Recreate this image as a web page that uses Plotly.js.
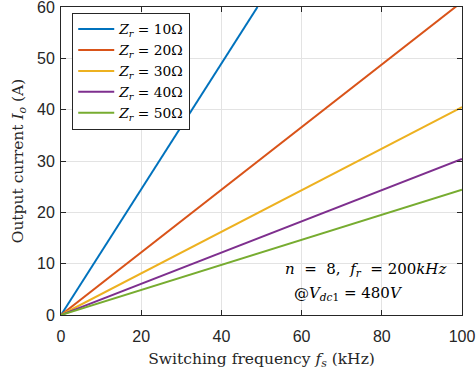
<!DOCTYPE html>
<html>
<head>
<meta charset="utf-8">
<script src="https://cdn.plot.ly/plotly-3.0.1.min.js"></script>
<style>html,body{margin:0;padding:0;background:#fff}#chart{width:476px;height:373px}</style>
</head>
<body>
<div id="chart"></div>
<script>
const fs = [0, 20, 40, 60, 80, 100];
const fsZ10 = [0, 20, 40, 49];
const ioZ10 = [0, 24.5, 49, 60];
const ioZ20 = [0, 12.2, 24.4, 36.6, 48.8, 61];
const ioZ30 = [0, 8.1, 16.2, 24.3, 32.4, 40.5];
const ioZ40 = [0, 6.1, 12.2, 18.3, 24.4, 30.4];
const ioZ50 = [0, 4.9, 9.8, 14.6, 19.5, 24.4];
const names = ['10', '20', '30', '40', '50'];
const colors = ['#0072BD', '#D95319', '#EDB120', '#7E2F8E', '#77AC30'];
const xs = [fsZ10, fs, fs, fs, fs];
const ys = [ioZ10, ioZ20, ioZ30, ioZ40, ioZ50];

const serif = 'DejaVu Serif';
const traces = names.map((n, i) => ({
  x: xs[i], y: ys[i], type: 'scatter', mode: 'lines',
  name: '<i>Z</i><sub><i>r</i></sub> = ' + n + 'Ω',
  line: {color: colors[i], width: 2}
}));

const axisCommon = {
  showgrid: true, gridcolor: '#e3e3e3', gridwidth: 1,
  zeroline: false, showline: true, linecolor: '#262626', linewidth: 1,
  mirror: 'ticks', ticks: 'inside', ticklen: 5, tickcolor: '#262626',
  ticklabeloverflow: 'allow',
  tickfont: {family: 'Liberation Sans', size: 16, color: '#262626'}
};

const layout = {
  width: 476, height: 373,
  margin: {l: 61, r: 14, t: 7, b: 58},
  paper_bgcolor: '#fff', plot_bgcolor: '#fff',
  showlegend: true,
  legend: {
    x: 0.028, y: 0.982, xanchor: 'left', yanchor: 'top',
    bgcolor: '#fff', bordercolor: '#262626', borderwidth: 1,
    font: {family: serif, size: 13.8, color: '#000'},
    itemwidth: 36, tracegroupgap: 0
  },
  xaxis: Object.assign({}, axisCommon, {
    range: [0, 100], tickvals: [0, 20, 40, 60, 80, 100], ticklabelstandoff: 7,
    title: {text: 'Switching frequency <i>f</i><sub><i>s</i></sub> (kHz)',
      font: {family: serif, size: 15.5, color: '#262626'}, standoff: 8}
  }),
  yaxis: Object.assign({}, axisCommon, {
    range: [0, 60], tickvals: [0, 10, 20, 30, 40, 50, 60], ticklabelstandoff: 2,
    title: {text: 'Output current <i>I</i><sub><i>o</i></sub> (A)',
      font: {family: serif, size: 15.5, color: '#262626'}, standoff: 9}
  }),
  annotations: [
    {x: 0.965, y: 0.148, xref: 'paper', yref: 'paper', xanchor: 'right', yanchor: 'middle',
     showarrow: false, align: 'left',
     text: '<i>n</i>&nbsp;&nbsp;=&nbsp;&nbsp;8,&nbsp;&nbsp;<i>f</i><sub><i>r</i></sub>&nbsp;&nbsp;=&nbsp;200<i>kHz</i>',
     font: {family: serif, size: 15, color: '#000'}},
    {x: 0.575, y: 0.07, xref: 'paper', yref: 'paper', xanchor: 'left', yanchor: 'middle',
     showarrow: false, align: 'left',
     text: '@<i>V</i><sub><i>dc</i>1</sub> = 480<i>V</i>',
     font: {family: serif, size: 15, color: '#000'}}
  ]
};

Plotly.newPlot('chart', traces, layout, {displayModeBar: false, staticPlot: true});
</script>
</body>
</html>
